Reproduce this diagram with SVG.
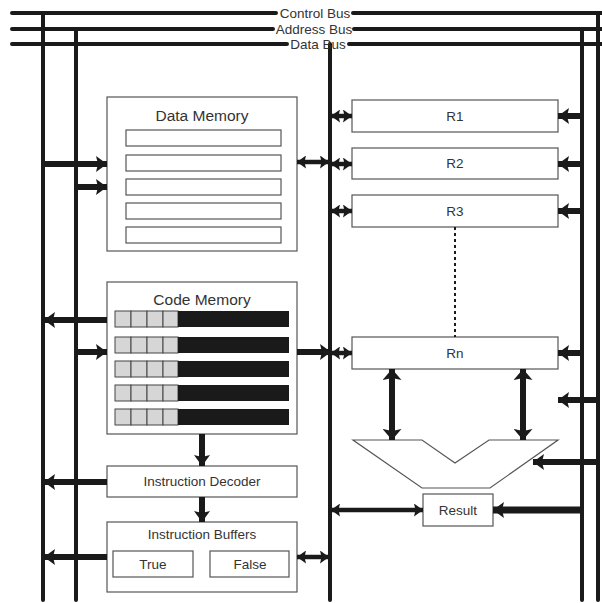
<svg xmlns="http://www.w3.org/2000/svg" width="602" height="603" viewBox="0 0 602 603">
<defs>
<style>
.bus{stroke:#1a1a1a;stroke-width:4;fill:none;stroke-linecap:round}
.box{fill:#fff;stroke:#555;stroke-width:1.2}
.cell{fill:#d6d6d6;stroke:#444;stroke-width:1}
.blk{fill:#1a1a1a}
.a{stroke:#1a1a1a;fill:none}
.t{font-family:"Liberation Sans",Arial,sans-serif;fill:#333;text-anchor:middle}
.s{font-size:13.5px}
.l{font-size:15.5px}
</style>
<marker id="hb" markerUnits="userSpaceOnUse" markerWidth="11" markerHeight="16" refX="11" refY="8" orient="auto-start-reverse" viewBox="0 0 11 16">
<path d="M0,0 L11,8 L0,16 L2,8 z" fill="#1a1a1a"/>
</marker>
<marker id="hs" markerUnits="userSpaceOnUse" markerWidth="9" markerHeight="13" refX="9" refY="6.5" orient="auto-start-reverse" viewBox="0 0 9 13">
<path d="M0,0 L9,6.5 L0,13 L1.5,6.5 z" fill="#1a1a1a"/>
</marker>
<marker id="hv" markerUnits="userSpaceOnUse" markerWidth="11" markerHeight="19" refX="11" refY="9.5" orient="auto-start-reverse" viewBox="0 0 11 19">
<path d="M0,0 L11,9.5 L0,19 L2,9.5 z" fill="#1a1a1a"/>
</marker>
</defs>

<g id="buses">
<path class="bus" d="M12,13 H276 M353,13 H606"/>
<path class="bus" d="M12,29 H273 M354,29 H606"/>
<path class="bus" d="M12,44 H287 M349,44 H606"/>
<path class="bus" d="M43,13 V600 M76,29 V600 M330,44 V600 M582,29 V600 M598,13 V600"/>
<text class="t s" x="315" y="18">Control Bus</text>
<text class="t s" x="314" y="34">Address Bus</text>
<text class="t s" x="318" y="49">Data Bus</text>
</g>

<g id="data-memory">
<rect class="box" x="107" y="97" width="190" height="154"/>
<text class="t l" x="202" y="121">Data Memory</text>
<rect class="box" x="126" y="130" width="155" height="16"/>
<rect class="box" x="126" y="155" width="155" height="16"/>
<rect class="box" x="126" y="179" width="155" height="16"/>
<rect class="box" x="126" y="203" width="155" height="16"/>
<rect class="box" x="126" y="227" width="155" height="16"/>
</g>

<g id="code-memory">
<rect class="box" x="107" y="282" width="190" height="152"/>
<text class="t l" x="202" y="305">Code Memory</text>
<g id="row1">
<rect class="cell" x="115" y="311" width="16" height="16"/><rect class="cell" x="131" y="311" width="16" height="16"/><rect class="cell" x="147" y="311" width="16" height="16"/><rect class="cell" x="163" y="311" width="15" height="16"/><rect class="blk" x="178" y="311" width="111" height="16"/>
</g>
<g id="row2">
<rect class="cell" x="115" y="337" width="16" height="16"/><rect class="cell" x="131" y="337" width="16" height="16"/><rect class="cell" x="147" y="337" width="16" height="16"/><rect class="cell" x="163" y="337" width="15" height="16"/><rect class="blk" x="178" y="337" width="111" height="16"/>
</g>
<g id="row3">
<rect class="cell" x="115" y="361" width="16" height="16"/><rect class="cell" x="131" y="361" width="16" height="16"/><rect class="cell" x="147" y="361" width="16" height="16"/><rect class="cell" x="163" y="361" width="15" height="16"/><rect class="blk" x="178" y="361" width="111" height="16"/>
</g>
<g id="row4">
<rect class="cell" x="115" y="385" width="16" height="16"/><rect class="cell" x="131" y="385" width="16" height="16"/><rect class="cell" x="147" y="385" width="16" height="16"/><rect class="cell" x="163" y="385" width="15" height="16"/><rect class="blk" x="178" y="385" width="111" height="16"/>
</g>
<g id="row5">
<rect class="cell" x="115" y="409" width="16" height="16"/><rect class="cell" x="131" y="409" width="16" height="16"/><rect class="cell" x="147" y="409" width="16" height="16"/><rect class="cell" x="163" y="409" width="15" height="16"/><rect class="blk" x="178" y="409" width="111" height="16"/>
</g>
</g>

<g id="instruction-decoder">
<rect class="box" x="107" y="466" width="190" height="31"/>
<text class="t s" x="202" y="486">Instruction Decoder</text>
</g>

<g id="instruction-buffers">
<rect class="box" x="107" y="522" width="190" height="70"/>
<text class="t s" x="202" y="539">Instruction Buffers</text>
<rect class="box" x="113" y="551" width="80" height="26"/>
<text class="t s" x="153" y="569">True</text>
<rect class="box" x="210" y="551" width="79" height="26"/>
<text class="t s" x="250" y="569">False</text>
</g>

<g id="r1"><rect class="box" x="352" y="100" width="206" height="32"/><text class="t s" x="455" y="121">R1</text></g>
<g id="r2"><rect class="box" x="352" y="148" width="206" height="31"/><text class="t s" x="455" y="168">R2</text></g>
<g id="r3"><rect class="box" x="352" y="195" width="206" height="32"/><text class="t s" x="455" y="216">R3</text></g>
<g id="rn"><rect class="box" x="352" y="337" width="206" height="32"/><text class="t s" x="455" y="358">Rn</text></g>

<g id="alu">
<path d="M353,440 H422 L455,463 L489,440 H558 L490,488 H422 Z" fill="#fff" stroke="#555" stroke-width="1.2"/>
</g>

<g id="result"><rect class="box" x="423" y="494" width="70" height="32"/><text class="t s" x="458" y="515">Result</text></g>

<g id="connectors">
<line class="a" x1="455" y1="227" x2="455" y2="337" stroke-width="2" stroke-dasharray="3,3"/>
<g stroke-width="6">
<path class="a" d="M43,164 H107" marker-end="url(#hb)"/>
<path class="a" d="M76,187 H107" marker-end="url(#hb)"/>
<path class="a" d="M107,320 H44" marker-end="url(#hb)"/>
<path class="a" d="M76,352 H107" marker-end="url(#hb)"/>
<path class="a" d="M297,352 H331" marker-end="url(#hb)"/>
<path class="a" d="M107,482 H44" marker-end="url(#hb)"/>
<path class="a" d="M107,557 H44" marker-end="url(#hb)"/>
<path class="a" d="M202,434 V466" marker-end="url(#hb)"/>
<path class="a" d="M202,497 V522" marker-end="url(#hb)"/>
<path class="a" d="M582,116 H558" marker-end="url(#hb)"/>
<path class="a" d="M582,164 H558" marker-end="url(#hb)"/>
<path class="a" d="M582,211 H558" marker-end="url(#hb)"/>
<path class="a" d="M582,353 H558" marker-end="url(#hb)"/>
<path class="a" d="M598,400 H558" marker-end="url(#hb)"/>
<path class="a" d="M598,462 H533" marker-end="url(#hb)"/>
<path class="a" d="M392,369 V440" marker-start="url(#hv)" marker-end="url(#hv)"/>
<path class="a" d="M523,369 V440" marker-start="url(#hv)" marker-end="url(#hv)"/>
</g>
<path class="a" d="M582,510 H493" stroke-width="7" marker-end="url(#hb)"/>
<g stroke-width="4.5">
<path class="a" d="M297,162 H329" marker-start="url(#hs)" marker-end="url(#hs)"/>
<path class="a" d="M331,116 H352" marker-start="url(#hs)" marker-end="url(#hs)"/>
<path class="a" d="M331,164 H352" marker-start="url(#hs)" marker-end="url(#hs)"/>
<path class="a" d="M331,211 H352" marker-start="url(#hs)" marker-end="url(#hs)"/>
<path class="a" d="M331,353 H352" marker-start="url(#hs)" marker-end="url(#hs)"/>
<path class="a" d="M331,510 H423" marker-start="url(#hs)" marker-end="url(#hs)"/>
<path class="a" d="M297,557 H329" marker-start="url(#hs)" marker-end="url(#hs)"/>
</g>
</g>
</svg>
